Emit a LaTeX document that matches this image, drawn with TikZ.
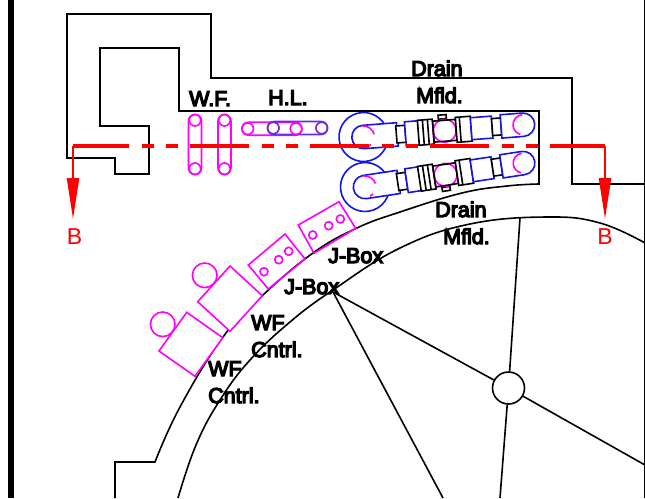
\documentclass[tikz,border=0pt]{standalone}
\usepackage{fontspec}
\setmainfont{Liberation Sans}
\newfontfamily\lblfont[FakeBold=6]{Liberation Sans}
\usetikzlibrary{arrows.meta, positioning}
\definecolor{wfmag}{RGB}{255,0,255}
\definecolor{hlvio}{RGB}{110,40,235}
\definecolor{mfblue}{RGB}{20,20,235}

\begin{document}
\begin{tikzpicture}[x=1pt, y=-1pt]

\tikzset{
  wall/.style={draw=black, line width=1.6pt, line join=miter},
  frameline/.style={draw=black, line width=5.5pt},
  mag/.style={draw=wfmag, line width=1.6pt},
  magbox/.style={draw=wfmag, fill=white, line width=1.6pt},
  blu/.style={draw=mfblue, fill=white, line width=1.6pt},
  blk/.style={draw=black, fill=white, line width=1.6pt},
  pill/.style={rectangle, rounded corners=6.4pt, minimum width=13pt, minimum height=60pt, inner sep=0pt, line width=1.6pt},
  pinhole/.style={circle, minimum size=11.5pt, inner sep=0pt, line width=1.6pt},
  lbl/.style={font=\lblfont\fontsize{21.5}{27}\selectfont, align=left, inner sep=0pt, anchor=base west},
  seclabel/.style={font=\fontsize{23}{23}\selectfont, text=red, inner sep=0pt, anchor=base},
  secline/.style={draw=red, line width=4.2pt, dash pattern=on 59pt off 13pt on 12pt off 12pt on 12pt off 12pt, dash phase=3pt},
  secarrow/.style={draw=red, fill=red, line width=2.2pt, -{Triangle[length=41pt,width=12pt]}}
}

\useasboundingbox (0,0) rectangle (645,498);

% --- Rahmen ---
\draw[frameline] (11,0) -- (11,498);
\draw[frameline, line width=3pt] (645,0) -- (645,498);

% --- Wände ---
\draw[wall] (645,184) -- (572,184) -- (572,78) -- (211,78) -- (211,14) -- (67,14) -- (67,158) -- (115,158) -- (115,174) -- (149,174) -- (149,126) -- (100,126) -- (100,48) -- (179,48) -- (179,111) -- (539,111) -- (539,184)
  -- plot[smooth, tension=0.7] coordinates {(539,184) (507,186) (462,193) (400,212) (357,228) (313,253) (263,295) (223,337) (180,407) (155,462)}
  -- (115,462) -- (115,498);
\draw[wall] plot[smooth, tension=0.7] coordinates {(178,498) (196,445) (220,400) (250,360) (290,322) (333,290) (400,248) (470,224) (548,217) (600,223) (645,243)};

% --- Rad ---
\coordinate (hubTop) at (520,218);
\coordinate (hubRight) at (645,465);
\coordinate (hubBot) at (500,498);
\coordinate (rimJ) at (333,292);
\coordinate (rimBot) at (443,498);
\node[circle, draw=black, line width=1.6pt, minimum size=32pt, inner sep=0pt] (hub) at (508.5,388) {};
\draw[wall] (hub) -- (hubTop);
\draw[wall] (hub) -- (hubRight);
\draw[wall] (hub) -- (hubBot);
\draw[wall] (hub) -- (rimJ);
\draw[wall] (rimJ) -- (rimBot);

% --- W.F. und H.L. ---
\node[pill, draw=wfmag] (wfa) at (195,144.5) {};
\node[pill, draw=wfmag] (wfb) at (224.5,144.5) {};
\node[pill, draw=wfmag, rotate=90] (hla) at (272,128.7) {};
\node[pill, draw=hlvio, rotate=90] (hlb) at (297.5,128) {};
\node[pinhole, draw=wfmag, below=0pt of wfa.north] {};
\node[pinhole, draw=wfmag, above=0pt of wfa.south] {};
\node[pinhole, draw=wfmag, below=0pt of wfb.north] {};
\node[pinhole, draw=wfmag, above=0pt of wfb.south] {};
\node[pinhole, draw=wfmag] at (247.7,128.7) {};
\node[pinhole, draw=wfmag] at (296,128.7) {};
\node[pinhole, draw=hlvio] at (273.3,128) {};
\node[pinhole, draw=hlvio] at (321.7,128) {};

% --- J-Box und WF-Kästen ---
\draw[mag] (298.3,225) -- (339,201.7) -- (355.7,228.3) -- (314,253.3) -- cycle;
\draw[mag] (248.3,265) -- (285,234) -- (305,259) -- (268.3,289) -- cycle;
\foreach \cx/\cy in {312.7/235, 328.7/225.7, 340.3/219, 264/271.7, 278.7/259.7, 288.7/251.3}
  \draw[mag] (\cx,\cy) circle (4pt);
\draw[mag] (204.7,275.3) circle (12.3pt);
\draw[mag] (162.7,324.3) circle (12.3pt);
\draw[magbox] (197.7,301.7) -- (230,266) -- (262.3,295.7) -- (230,331.3) -- cycle;
\draw[magbox] (159,351) -- (186.7,312.3) -- (222.7,337.7) -- (195,376.3) -- cycle;

% --- Drain-Verteiler ---
\foreach \ox/\oy/\rot/\tabv in {365/187/8.6/1, 363.5/137/4.4/-1} {
\begin{scope}[shift={(\ox,\oy)}, rotate=\rot]
  \draw[blu] (0,0) circle (24.5pt);
  % Körper
  \draw[blk] (76,12*\tabv) rectangle (84,16*\tabv);
  \draw[blu] (0,-11.7) -- (34,-11.7) -- (34,11.7) -- (0,11.7) arc (270:90:11.7pt) -- cycle;
  \draw[blk] (33,-8.5) rectangle (42,8.5);
  \draw[blu] (42,-12) rectangle (56,12);
  \draw[blk] (55,-12.5) rectangle (70,12.5);
  \draw[wall] (60,-12.5) -- (60,12.5);
  \draw[wall] (65,-12.5) -- (65,12.5);
  \draw[mag] (81.5,0) circle (11.5pt);
  \draw[wall] (70,-10.5) rectangle (93,10.5);
  \draw[blk] (93,-12.5) rectangle (108,12.5);
  \draw[wall] (97,-12.5) -- (97,12.5);
  \draw[blu] (108,-11) rectangle (129,11);
  \draw[blk] (129,-8.5) rectangle (138,8.5);
  \draw[blu] (138,-11.7) -- (160,-11.7) arc (90:-90:11.7pt) -- (138,11.7) -- cycle;
  % Endkreise
  \draw[mag] (0,-11) arc (90:10:11pt);
  \draw[mag] (7,8) arc (-50:-70:11pt);
  \draw[mag] (160,-10) arc (90:250:10pt);
\end{scope}
}

% --- Schnittlinie ---
\coordinate (secL) at (73,146);
\coordinate (secR) at (605,146);
\coordinate (tipL) at (73,219);
\coordinate (tipR) at (605,219);
\draw[secline] (secL) -- (secR);
\draw[secarrow] (secL) -- (tipL);
\draw[secarrow] (secR) -- (tipR);
\node[seclabel] (bL) at (74.5,244) {B};
\node[seclabel] (bR) at (605,244) {B};

% --- Beschriftungen ---
\node[lbl] (wfl) at (189,106) {W.F.};
\node[lbl] (hll) at (268,105) {H.L.};
\node[lbl] (draina) at (411,103) {Drain\\\hspace*{5pt}Mfld.};
\node[lbl] (drainb) at (435,244) {Drain\\\hspace*{8pt}Mfld.};
\node[lbl] (jboxa) at (328,263) {J-Box};
\node[lbl] (jboxb) at (284,294) {J-Box};
\node[lbl] (ctrla) at (251,357) {WF\\Cntrl.};
\node[lbl] (ctrlb) at (208,403) {WF\\Cntrl.};

\end{tikzpicture}
\end{document}
